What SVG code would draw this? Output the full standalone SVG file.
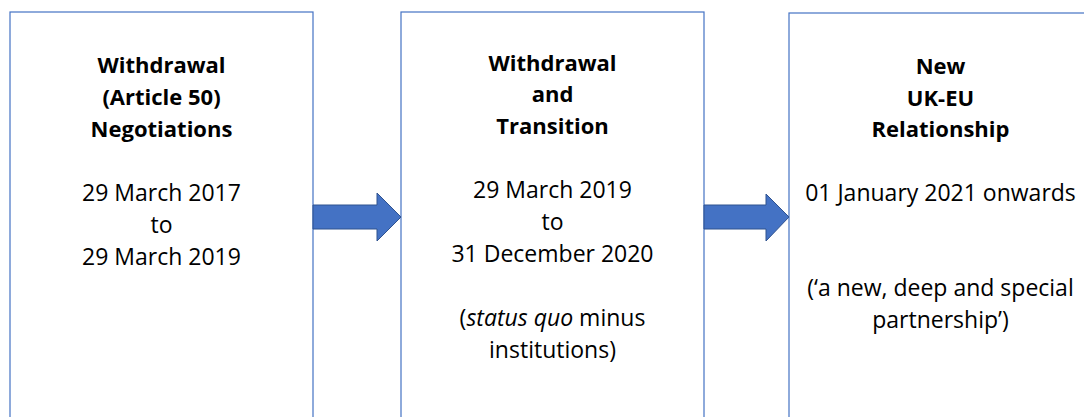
<svg xmlns="http://www.w3.org/2000/svg" width="1084" height="417" viewBox="0 0 1084 417">
<style>
.box{fill:#fff;stroke:#4472C4;stroke-width:1.2}
.arr{fill:#4472C4;stroke:#2F528F;stroke-width:1}
text{font-family:"Open Sans","Liberation Sans",sans-serif;font-size:23px;fill:#000;text-anchor:middle}
.b{font-weight:bold;font-size:22px}
</style>
<rect width="1084" height="417" fill="#fff"/>
<g id="node1">
<rect class="box" x="10" y="12" width="303" height="420"/>
<text class="b" x="161.5" y="73">Withdrawal</text>
<text class="b" x="161.5" y="105">(Article 50)</text>
<text class="b" x="161.5" y="137">Negotiations</text>
<text x="161.5" y="201">29 March 2017</text>
<text x="161.5" y="233">to</text>
<text x="161.5" y="265">29 March 2019</text>
</g>
<g id="node2">
<rect class="box" x="401" y="12" width="303" height="420"/>
<text class="b" x="552.5" y="71">Withdrawal</text>
<text class="b" x="552.5" y="102">and</text>
<text class="b" x="552.5" y="134">Transition</text>
<text x="552.5" y="198">29 March 2019</text>
<text x="552.5" y="230">to</text>
<text x="552.5" y="262">31 December 2020</text>
<text x="552.5" y="326">(<tspan font-style="italic">status quo</tspan> minus</text>
<text x="552.5" y="358">institutions)</text>
</g>
<g id="node3">
<rect class="box" x="789" y="13" width="310" height="420"/>
<text class="b" x="940.5" y="74">New</text>
<text class="b" x="940.5" y="106">UK-EU</text>
<text class="b" x="940.5" y="137">Relationship</text>
<text x="940.5" y="201">01 January 2021 onwards</text>
<text x="940.5" y="296">(‘a new, deep and special</text>
<text x="940.5" y="328">partnership’)</text>
</g>
<g id="connectors">
<path class="arr" d="M313,205 H377 V193 L401,217 L377,241 V229 H313 Z"/>
<path class="arr" d="M704,205 H766 V194 L789,217 L766,241 V229 H704 Z"/>
</g>
</svg>
